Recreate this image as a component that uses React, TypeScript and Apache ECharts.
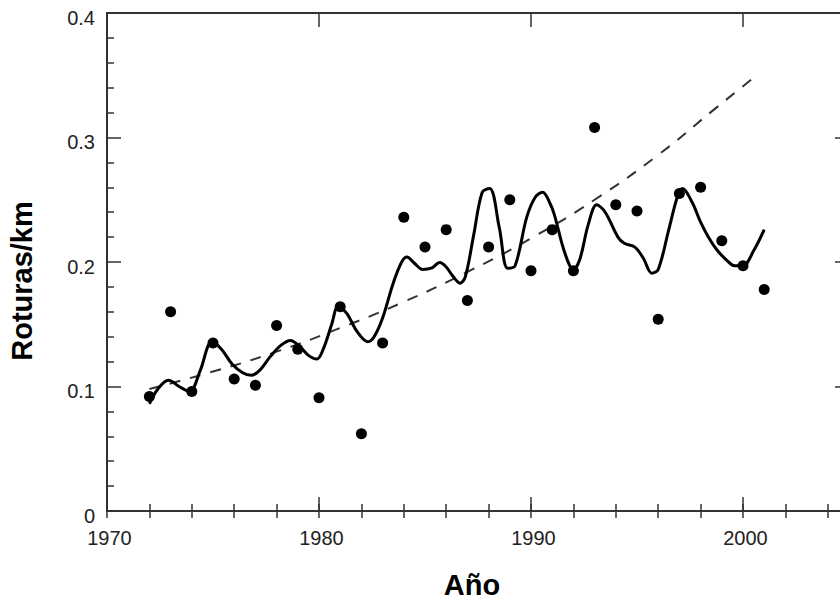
import React, { useEffect, useRef } from "react";
import * as echarts from "echarts";

// Observed annual values (dots)
const pointYears = [1972, 1973, 1974, 1975, 1976, 1977, 1978, 1979, 1980, 1981, 1982, 1983, 1984, 1985, 1986, 1987, 1988, 1989, 1990, 1991, 1992, 1993, 1994, 1995, 1996, 1997, 1998, 1999, 2000, 2001];
const pointValues = [0.092, 0.160, 0.096, 0.135, 0.106, 0.101, 0.149, 0.130, 0.091, 0.164, 0.062, 0.135, 0.236, 0.212, 0.226, 0.169, 0.212, 0.250, 0.193, 0.226, 0.193, 0.308, 0.246, 0.241, 0.154, 0.255, 0.260, 0.217, 0.197, 0.178];

// Smoothed curve (solid)
const curveYears = [1972.0, 1972.4, 1972.9, 1973.4, 1973.9, 1974.4, 1974.95, 1975.4, 1975.9, 1976.4, 1976.8, 1977.2, 1977.7, 1978.2, 1978.65, 1979.1, 1979.5, 1979.9, 1980.2, 1980.6, 1980.9, 1981.3, 1981.8, 1982.3, 1982.6, 1983.0, 1983.5, 1983.9, 1984.15, 1984.5, 1984.9, 1985.3, 1985.7, 1986.0, 1986.3, 1986.65, 1986.9, 1987.3, 1987.7, 1988.05, 1988.5, 1988.9, 1989.25, 1989.8, 1990.2, 1990.55, 1990.9, 1991.1, 1991.6, 1992.0, 1992.3, 1992.7, 1993.1, 1993.5, 1994.1, 1994.4, 1994.9, 1995.3, 1995.7, 1996.0, 1996.5, 1996.9, 1997.15, 1997.6, 1998.0, 1998.4, 1998.8, 1999.2, 1999.6, 2000.0, 2000.5, 2001.0];
const curveValues = [0.086, 0.098, 0.105, 0.100, 0.096, 0.113, 0.136, 0.130, 0.118, 0.111, 0.109, 0.113, 0.124, 0.133, 0.137, 0.132, 0.125, 0.122, 0.130, 0.150, 0.164, 0.159, 0.144, 0.136, 0.140, 0.155, 0.183, 0.200, 0.204, 0.199, 0.194, 0.195, 0.1995, 0.196, 0.189, 0.183, 0.188, 0.222, 0.256, 0.259, 0.228, 0.195, 0.197, 0.236, 0.252, 0.256, 0.247, 0.238, 0.207, 0.194, 0.202, 0.230, 0.246, 0.240, 0.220, 0.215, 0.212, 0.203, 0.191, 0.194, 0.226, 0.252, 0.259, 0.248, 0.232, 0.219, 0.209, 0.202, 0.197, 0.197, 0.209, 0.226];

// Trend (dashed)
const trendYears = [1972, 1975, 1978, 1981, 1984, 1987, 1990, 1993, 1996, 1998.6, 2000.5];
const trendValues = [0.098, 0.112, 0.128, 0.147, 0.168, 0.192, 0.219, 0.250, 0.286, 0.322, 0.348];

const FONT = '"Liberation Sans", Arial, Helvetica, sans-serif';
const AX = "#333";

export default function App() {
  const ref = useRef<HTMLDivElement>(null);
  useEffect(() => {
    if (!ref.current) return;
    const chart = echarts.init(ref.current, null, { renderer: "svg" });
    const majorX = (position: string, labels: boolean) => ({
      type: "value",
      position,
      min: 1970,
      max: 2005,
      interval: 10,
      axisLine: { show: true, onZero: false, lineStyle: { color: AX, width: 2 } },
      axisTick: { show: true, inside: true, length: 14, lineStyle: { color: AX, width: 1.5 } },
      axisLabel: labels
        ? {
            show: true,
            showMaxLabel: false,
            margin: 17,
            fontSize: 20,
            color: "#222",
            fontFamily: FONT,
            padding: [0, 0, 0, 5],
            formatter: (v: number) => String(v),
          }
        : { show: false },
      splitLine: { show: false },
    });
    const minorX = (position: string) => ({
      type: "value",
      position,
      min: 1970,
      max: 2005,
      interval: 2,
      axisLine: { show: false },
      axisTick: { show: true, inside: true, length: 7, lineStyle: { color: AX, width: 1.5 } },
      axisLabel: { show: false },
      splitLine: { show: false },
    });
    const yAx = (position: string, labels: boolean) => ({
      type: "value",
      position,
      min: 0,
      max: 0.4,
      interval: 0.1,
      axisLine: { show: true, onZero: false, lineStyle: { color: AX, width: 2 } },
      axisTick: { show: true, inside: true, length: 14, lineStyle: { color: AX, width: 1.5 } },
      minorTick: { show: true, splitNumber: 5, length: 7, lineStyle: { color: AX, width: 1.5 } },
      axisLabel: labels
        ? {
            show: true,
            margin: 12,
            fontSize: 20,
            color: "#222",
            fontFamily: FONT,
            verticalAlign: "top",
            lineHeight: 9,
            formatter: (v: number) => (v === 0 ? "0" : v.toFixed(1)),
          }
        : { show: false },
      splitLine: { show: false },
      minorSplitLine: { show: false },
    });

    chart.setOption({
      animation: false,
      backgroundColor: "#fff",
      grid: { left: 107, right: 0, top: 13, bottom: 92, containLabel: false },
      xAxis: [majorX("bottom", true), minorX("bottom"), majorX("top", false), minorX("top")],
      yAxis: [yAx("left", true), yAx("right", false)],
      graphic: [
        {
          type: "text",
          x: 472,
          y: 585,
          style: { text: "Año", font: `bold 29px ${FONT}`, fill: "#000", align: "center", verticalAlign: "middle" },
        },
        {
          type: "text",
          x: 22,
          y: 281,
          rotation: Math.PI / 2,
          style: { text: "Roturas/km", font: `bold 29px ${FONT}`, fill: "#000", align: "center", verticalAlign: "middle" },
        },
      ],
      series: [
        {
          type: "line",
          xAxisIndex: 0,
          yAxisIndex: 0,
          data: trendYears.map((y, i) => [y, trendValues[i]]),
          smooth: true,
          showSymbol: false,
          lineStyle: { color: "#333", width: 2, type: [11, 10] },
          z: 2,
        },
        {
          type: "line",
          xAxisIndex: 0,
          yAxisIndex: 0,
          data: curveYears.map((y, i) => [y, curveValues[i]]),
          smooth: 0.35,
          showSymbol: false,
          lineStyle: { color: "#000", width: 3 },
          z: 3,
        },
        {
          type: "scatter",
          xAxisIndex: 0,
          yAxisIndex: 0,
          data: pointYears.map((y, i) => [y, pointValues[i]]),
          symbol: "circle",
          symbolSize: 11,
          itemStyle: { color: "#000", opacity: 1 },
          z: 4,
        },
      ],
    });
    return () => chart.dispose();
  }, []);
  return (
    <div style={{ position: "absolute", left: 0, top: 0, width: 840, height: 603, overflow: "hidden", background: "#fff" }}>
      <div ref={ref} style={{ width: 849, height: 603 }} />
    </div>
  );
}
